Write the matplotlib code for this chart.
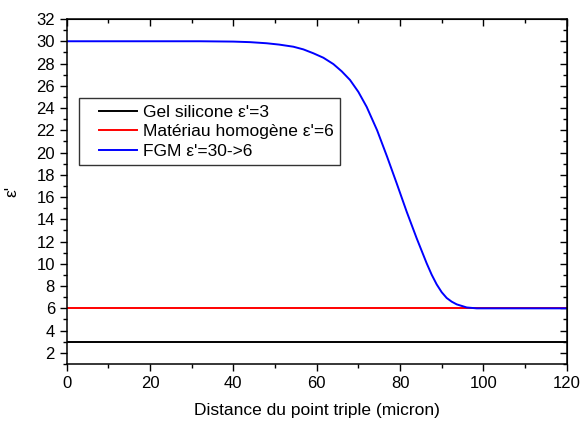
import matplotlib
matplotlib.use("Agg")
import matplotlib.pyplot as plt
from matplotlib.ticker import MultipleLocator
from matplotlib.legend_handler import HandlerLine2D

plt.rcParams['font.family'] = ['Liberation Sans', 'DejaVu Sans']

# flat reference materials
x_flat = [0, 120]
gel_eps = [3, 3]
homog_eps = [6, 6]

# FGM profile
fgm_x = [0, 32, 40, 44, 48, 51, 54.4, 56.8, 59.2, 61.6, 64, 66, 68, 70, 72,
         74.5, 76.9, 79.2, 81.6, 84, 86.4, 87.6, 88.8, 90, 91.2, 92.4, 93.6,
         96, 98.4, 100, 120]
fgm_eps = [30, 30, 29.97, 29.92, 29.82, 29.7, 29.51, 29.27, 28.92, 28.52,
           27.95, 27.3, 26.52, 25.45, 24.1, 22.0, 19.62, 17.23, 14.68, 12.29,
           10.04, 9.02, 8.15, 7.45, 6.93, 6.6, 6.36, 6.08, 6.0, 6.0, 6.0]

labels = ["Gel silicone \u03b5'=3", "Mat\u00e9riau homog\u00e8ne \u03b5'=6",
          "FGM \u03b5'=30->6"]

fig = plt.figure(figsize=(5.8, 4.23), dpi=100)
ax = fig.add_axes([66.7 / 580, 1 - 364 / 423, 500 / 580, (364 - 19) / 423])

l1, = ax.plot(x_flat, gel_eps, color="black", lw=1.4, label=labels[0])
l2, = ax.plot(x_flat, homog_eps, color="red", lw=1.4, label=labels[1])
l3, = ax.plot(fgm_x, fgm_eps, color="blue", lw=1.4, label=labels[2])

ax.set_xlim(0, 120)
ax.set_ylim(1, 32)
ax.xaxis.set_major_locator(MultipleLocator(20))
ax.xaxis.set_minor_locator(MultipleLocator(10))
ax.yaxis.set_major_locator(MultipleLocator(2))
ax.yaxis.set_minor_locator(MultipleLocator(1))
ax.tick_params(which="both", direction="out", width=1, labelsize=12, colors="black")
ax.tick_params(which="major", length=5)
ax.tick_params(which="minor", length=3)
for s in ax.spines.values():
    s.set_linewidth(1.1)

# top / right ticks point inward
top = ax.secondary_xaxis("top")
top.xaxis.set_major_locator(MultipleLocator(20))
top.xaxis.set_minor_locator(MultipleLocator(10))
top.tick_params(which="both", direction="in", labeltop=False, width=1)
top.tick_params(which="major", length=5)
top.tick_params(which="minor", length=3)
right = ax.secondary_yaxis("right")
right.yaxis.set_major_locator(MultipleLocator(2))
right.yaxis.set_minor_locator(MultipleLocator(1))
right.tick_params(which="both", direction="in", labelright=False, width=1)
right.tick_params(which="major", length=5)
right.tick_params(which="minor", length=3)

ax.set_xlabel("Distance du point triple (micron)", fontsize=12.5, labelpad=9)
ax.set_ylabel("\u03b5'", fontsize=12.5, labelpad=12)

# legend lines are inset from the frame, like Origin draws them
inset = HandlerLine2D(numpoints=2, marker_pad=0.8)
leg = ax.legend(handles=[l1, l2, l3], loc="upper left",
                bbox_to_anchor=(0.025, 0.77), borderaxespad=0,
                fontsize=12.5, frameon=True, fancybox=False,
                edgecolor="black", handlelength=3.8, labelspacing=0.27,
                borderpad=0.35, handletextpad=-0.45,
                handler_map={l1: inset, l2: inset, l3: inset})
leg.get_frame().set_linewidth(1.0)

fig.savefig("out.png", dpi=100)
